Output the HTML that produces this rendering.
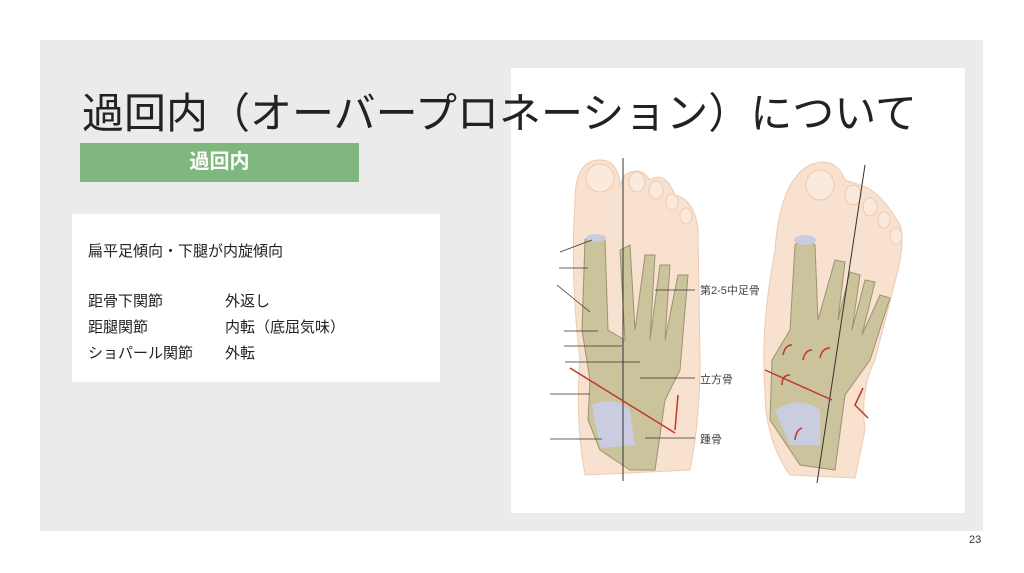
<!DOCTYPE html>
<html><head><meta charset="utf-8"><style>
body{margin:0;width:1024px;height:573px;background:#fff;position:relative;overflow:hidden;font-family:"Liberation Sans","Noto Sans CJK JP",sans-serif;}
.panel{position:absolute;left:40px;top:40px;width:943px;height:491px;background:#ebebeb;}
.img{position:absolute;left:511px;top:68px;width:454px;height:445px;background:#fff;}
.title{position:absolute;left:82px;top:80px;font-size:42px;color:#222;white-space:nowrap;}
.green{position:absolute;left:80px;top:143px;width:279px;height:39px;background:#7fb77e;color:#fff;font-size:20px;font-weight:bold;text-align:center;line-height:39px;}
.box{position:absolute;left:72px;top:214px;width:368px;height:168px;background:#fff;font-size:15px;color:#222;}
.box div{position:absolute;white-space:nowrap;}
.pn{position:absolute;left:969px;top:534px;font-size:11px;color:#333;}
</style></head><body>
<div class="panel"></div>
<div class="img">
<svg width="454" height="445" viewBox="511 68 454 445" xmlns="http://www.w3.org/2000/svg">
<!-- left foot skin -->
<path d="M575 200 Q575 160 600 160 Q618 160 620 185 L625 175 Q640 165 650 180 Q665 170 675 195 Q695 200 698 230 L700 360 Q700 420 690 470 L585 475 Q575 420 580 360 Q570 280 575 200Z" fill="#f8e1cf" stroke="#eecab0"/>
<g fill="#fbe9dc" stroke="#eecab0">
<ellipse cx="600" cy="178" rx="14" ry="14"/><ellipse cx="637" cy="182" rx="8" ry="10"/><ellipse cx="656" cy="190" rx="7" ry="9"/><ellipse cx="672" cy="202" rx="6" ry="8"/><ellipse cx="686" cy="216" rx="6" ry="8"/>
</g>
<!-- left bones -->
<path d="M585 240 Q595 230 605 240 L608 330 L625 340 L620 250 L630 245 L635 330 L645 255 L655 255 L650 340 L660 265 L670 265 L665 340 L678 275 L688 275 L680 370 L665 400 L655 470 L630 470 L600 450 L588 420 L590 380 L582 330Z" fill="#cbc39c" stroke="#9c9272" stroke-width="1"/>
<path d="M592 405 Q615 395 630 410 L635 445 L600 448 Z" fill="#c9cddf"/>
<ellipse cx="596" cy="238" rx="10" ry="4" fill="#c9cddf"/>
<line x1="623" y1="158" x2="623" y2="481" stroke="#333" stroke-width="1"/>
<line x1="570" y1="368" x2="675" y2="433" stroke="#c0392b" stroke-width="1.5"/>
<path d="M678 395 L675 430" stroke="#c0392b" stroke-width="1.5"/>
<g stroke="#333" stroke-width="0.8">
<line x1="560" y1="252" x2="592" y2="240"/><line x1="559" y1="268" x2="588" y2="268"/>
<line x1="557" y1="285" x2="590" y2="312"/><line x1="564" y1="331" x2="598" y2="331"/>
<line x1="564" y1="346" x2="622" y2="346"/><line x1="565" y1="362" x2="640" y2="362"/>
<line x1="550" y1="394" x2="590" y2="394"/><line x1="550" y1="439" x2="602" y2="439"/>
<line x1="655" y1="290" x2="695" y2="290"/><line x1="640" y1="378" x2="695" y2="378"/>
<line x1="645" y1="438" x2="695" y2="438"/>
</g>
<g font-family="Liberation Sans,Noto Sans CJK JP,sans-serif" font-size="11" fill="#444">
<text x="700" y="294">第2-5中足骨</text><text x="700" y="383">立方骨</text><text x="700" y="443">踵骨</text>
</g>
<!-- right foot -->
<path d="M775 250 Q780 180 810 165 Q835 155 845 180 L860 185 Q880 190 900 225 Q905 240 898 270 L875 360 Q860 390 865 430 L855 478 L790 475 Q765 440 765 390 Q760 330 775 250Z" fill="#f8e1cf" stroke="#eecab0"/>
<g fill="#fbe9dc" stroke="#eecab0">
<ellipse cx="820" cy="185" rx="14" ry="15"/><ellipse cx="853" cy="195" rx="8" ry="10"/><ellipse cx="870" cy="207" rx="7" ry="9"/><ellipse cx="884" cy="220" rx="6" ry="8"/><ellipse cx="896" cy="236" rx="6" ry="8"/>
</g>
<path d="M795 245 Q805 235 815 245 L818 320 L835 260 L845 262 L838 320 L850 272 L860 275 L852 330 L865 280 L875 282 L862 335 L880 295 L890 298 L870 360 L845 395 L835 470 L800 465 L770 420 L772 360 L790 330Z" fill="#cbc39c" stroke="#9c9272" stroke-width="1"/>
<path d="M775 410 Q800 395 820 410 L820 445 L790 445 Z" fill="#c9cddf"/>
<ellipse cx="805" cy="240" rx="11" ry="5" fill="#c9cddf"/>
<g stroke="#c0392b" stroke-width="1.5" fill="none">
<path d="M783 355 Q785 345 792 345"/><path d="M803 360 Q805 350 812 350"/><path d="M820 358 Q822 348 830 348"/><path d="M782 385 Q782 375 790 375"/><path d="M795 440 Q796 430 802 428"/>
</g>
<line x1="865" y1="165" x2="817" y2="483" stroke="#333" stroke-width="1"/>
<line x1="765" y1="370" x2="832" y2="400" stroke="#c0392b" stroke-width="1.5"/>
<path d="M863 388 L855 405 L868 418" stroke="#c0392b" stroke-width="1.5" fill="none"/>
</svg>
</div>
<div class="title">過回内（オーバープロネーション）について</div>
<div class="green">過回内</div>
<div class="box">
<div style="left:16px;top:26px">扁平足傾向・下腿が内旋傾向</div>
<div style="left:16px;top:76px">距骨下関節</div><div style="left:153px;top:76px">外返し</div>
<div style="left:16px;top:102px">距腿関節</div><div style="left:153px;top:102px">内転（底屈気味）</div>
<div style="left:16px;top:128px">ショパール関節</div><div style="left:153px;top:128px">外転</div>
</div>
<div class="pn">23</div>
</body></html>
